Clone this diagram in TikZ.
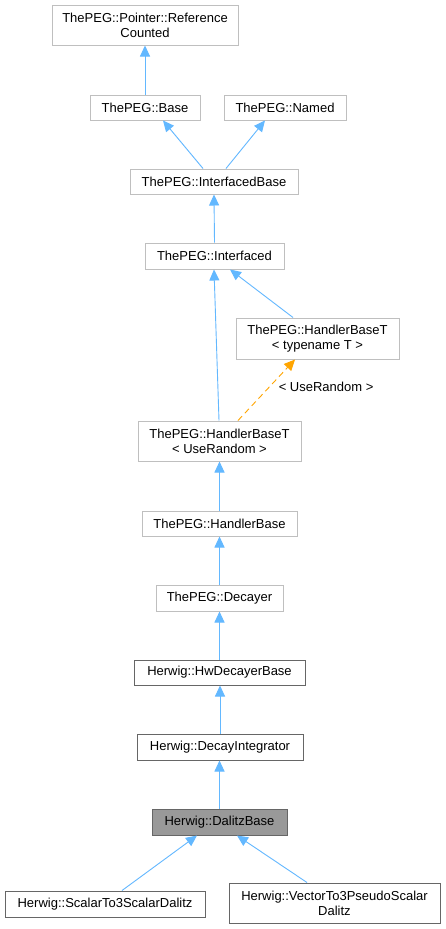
\documentclass[tikz,border=0pt]{standalone}
\usepackage{fontspec}
\setmainfont{Liberation Sans}
\usetikzlibrary{arrows.meta}
\definecolor{edgeblue}{HTML}{63B8FF}
\definecolor{edgeorange}{HTML}{FFA500}
\definecolor{lightborder}{HTML}{BFBFBF}
\definecolor{darkborder}{HTML}{666666}
\definecolor{selfill}{HTML}{999999}
\begin{document}
\begin{tikzpicture}[x=1pt,y=-1pt,
  every node/.style={font=\fontsize{13}{15}\selectfont, inner sep=0pt, align=center},
  extbox/.style={draw=lightborder, line width=1pt, fill=white},
  docbox/.style={draw=darkborder, line width=1pt, fill=white},
  selbox/.style={draw=darkborder, line width=1pt, fill=selfill},
  inherit/.style={draw=edgeblue, line width=0.9pt, -{Triangle[length=11pt,width=10pt]}},
  templ/.style={draw=edgeorange, line width=0.9pt, dashed, dash pattern=on 6pt off 4pt, -{Triangle[length=11pt,width=10pt]}}
]
\useasboundingbox (0,0) rectangle (445,929);
\fill[white] (0,0) rectangle (445,929);

\node[extbox, minimum width=186pt, minimum height=40pt] (rc) at (145,25) {ThePEG::Pointer::Reference\\Counted};
\node[extbox, minimum width=110pt, minimum height=25pt] (base) at (145,107.5) {ThePEG::Base};
\node[extbox, minimum width=122pt, minimum height=25pt] (named) at (285,107.5) {ThePEG::Named};
\node[extbox, minimum width=168pt, minimum height=25pt] (ib) at (214,181.5) {ThePEG::InterfacedBase};
\node[extbox, minimum width=139pt, minimum height=26pt] (intf) at (214.5,256) {ThePEG::Interfaced};
\node[extbox, minimum width=163pt, minimum height=41pt] (hbt) at (317.5,338.5) {ThePEG::HandlerBaseT\\< typename T >};
\node[extbox, minimum width=163pt, minimum height=40pt] (hbtur) at (219.5,441) {ThePEG::HandlerBaseT\\< UseRandom >};
\node[extbox, minimum width=155pt, minimum height=25pt] (hb) at (219.5,523.5) {ThePEG::HandlerBase};
\node[extbox, minimum width=127pt, minimum height=26pt] (dec) at (219.5,598) {ThePEG::Decayer};
\node[docbox, minimum width=171pt, minimum height=25pt] (hwd) at (219.5,672.5) {Herwig::HwDecayerBase};
\node[docbox, minimum width=166pt, minimum height=26pt] (di) at (220,747) {Herwig::DecayIntegrator};
\node[selbox, minimum width=135pt, minimum height=26pt] (db) at (219.5,822) {Herwig::DalitzBase};
\node[docbox, minimum width=200pt, minimum height=26pt] (s3) at (105,904) {Herwig::ScalarTo3ScalarDalitz};
\node[docbox, minimum width=211pt, minimum height=40pt] (v3) at (334.5,903) {Herwig::VectorTo3PseudoScalar\\Dalitz};

\draw[inherit] (base.north) -- (rc.south);
\draw[inherit] ([xshift=-11pt]ib.north) -- ([xshift=18pt]base.south);
\draw[inherit] ([xshift=12pt]ib.north) -- ([xshift=-20pt]named.south);
\draw[inherit] (intf.north) -- (ib.south);
\draw[inherit] ([xshift=-24.5pt]hbt.north) -- ([xshift=15.5pt]intf.south);
\draw[inherit] ([xshift=-0.5pt]hbtur.north) -- ([xshift=-0.5pt]intf.south);
\draw[templ] ([xshift=18.5pt]hbtur.north) -- ([xshift=-22.5pt]hbt.south)
  node[pos=0.55, right=9pt] (lbl) {< UseRandom >};
\draw[inherit] (hb.north) -- (hbtur.south);
\draw[inherit] (dec.north) -- (hb.south);
\draw[inherit] (hwd.north) -- (dec.south);
\draw[inherit] (di.north) -- ([xshift=0.5pt]hwd.south);
\draw[inherit] (db.north) -- ([xshift=-0.5pt]di.south);
\draw[inherit] ([xshift=17pt]s3.north) -- ([xshift=-22.5pt]db.south);
\draw[inherit] ([xshift=-27.5pt]v3.north) -- ([xshift=17.5pt]db.south);
\end{tikzpicture}
\end{document}
